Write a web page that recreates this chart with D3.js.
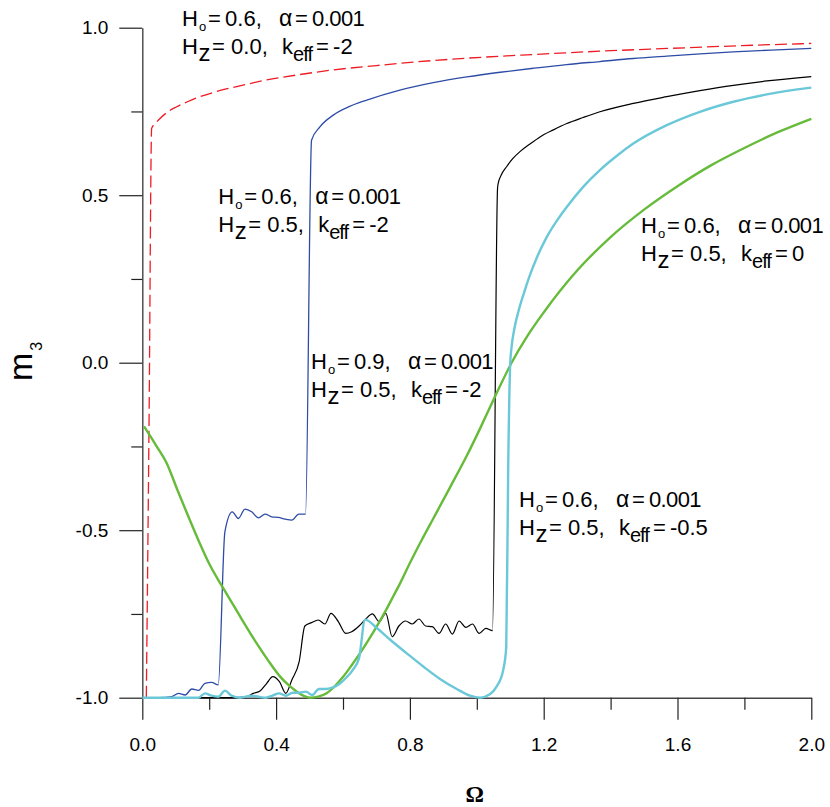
<!DOCTYPE html>
<html>
<head>
<meta charset="utf-8">
<script src="https://cdn.jsdelivr.net/npm/d3@7"></script>
<style>
  body { margin: 0; background: #fff; overflow: hidden; }
  text { font-family: "Liberation Sans", Arial, sans-serif; }
</style>
</head>
<body>
<div id="chart"></div>
<script>
// tick values
const omegaTicks = [0, 0.4, 0.8, 1.2, 1.6, 2.0];
const omegaMinor = [0.2, 0.6, 1.0, 1.4, 1.8];
const mTicks = [-1, -0.5, 0, 0.5, 1];
const mMinor = [-0.75, -0.25, 0.25, 0.75];

// H0=0.6, Hz=0.0, keff=-2  (red dashed)
const redSeries = [
    [0.012, -1.0], [0.02, -0.2], [0.028, 0.70], [0.04, 0.715], [0.053, 0.729],
    [0.075, 0.748], [0.103, 0.764], [0.135, 0.779], [0.172, 0.794], [0.22, 0.809],
    [0.272, 0.822], [0.32, 0.833], [0.372, 0.844], [0.47, 0.86], [0.571, 0.874],
    [0.7, 0.887], [0.82, 0.898], [0.97, 0.909], [1.17, 0.92], [1.37, 0.93],
    [1.57, 0.938], [1.78, 0.946], [2.0, 0.953]
];

// H0=0.6, Hz=0.5, keff=-2  (blue)
const blueSeries = [
    [0, -1], [0.05, -1], [0.088, -0.997], [0.108, -0.987], [0.128, -0.992],
    [0.148, -0.974], [0.168, -0.978], [0.187, -0.957], [0.207, -0.954], [0.227, -0.962],
    [0.247, -0.504], [0.269, -0.445], [0.287, -0.465], [0.307, -0.437], [0.327, -0.445],
    [0.347, -0.463], [0.367, -0.452], [0.387, -0.46], [0.407, -0.462], [0.427, -0.467],
    [0.447, -0.47], [0.468, -0.452], [0.488, -0.452], [0.506, 0.664], [0.531, 0.704],
    [0.571, 0.739], [0.62, 0.765], [0.671, 0.784], [0.77, 0.814], [0.87, 0.836],
    [0.97, 0.853], [1.07, 0.867], [1.169, 0.879], [1.268, 0.89], [1.368, 0.899],
    [1.468, 0.908], [1.568, 0.915], [1.668, 0.922], [1.766, 0.928], [1.88, 0.933],
    [2.0, 0.938]
];

// H0=0.9, Hz=0.5, keff=-2  (black)
const blackSeries = [
    [0, -1], [0.272, -1], [0.312, -0.997], [0.332, -0.987], [0.352, -0.98],
    [0.372, -0.957], [0.39, -0.937], [0.41, -0.952], [0.429, -0.987], [0.447, -0.947],
    [0.469, -0.892], [0.486, -0.786], [0.506, -0.776], [0.526, -0.768], [0.546, -0.78],
    [0.564, -0.748], [0.586, -0.773], [0.608, -0.808], [0.626, -0.803], [0.648, -0.786],
    [0.668, -0.765], [0.688, -0.75], [0.708, -0.773], [0.728, -0.748], [0.747, -0.818],
    [0.767, -0.786], [0.787, -0.771], [0.807, -0.78], [0.827, -0.765], [0.847, -0.786],
    [0.867, -0.788], [0.887, -0.808], [0.907, -0.78], [0.927, -0.81], [0.947, -0.771],
    [0.967, -0.79], [0.987, -0.78], [1.007, -0.808], [1.027, -0.793], [1.047, -0.8],
    [1.062, 0.52], [1.064, 0.535], [1.073, 0.56], [1.089, 0.585], [1.108, 0.61],
    [1.129, 0.63], [1.159, 0.653], [1.189, 0.674], [1.229, 0.695], [1.269, 0.714],
    [1.318, 0.732], [1.368, 0.749], [1.468, 0.774], [1.568, 0.794], [1.667, 0.812],
    [1.767, 0.828], [1.867, 0.841], [2.0, 0.854]
];

// H0=0.6, Hz=0.5, keff=-0.5  (cyan)
const cyanSeries = [
    [0, -1], [0.168, -1], [0.187, -0.987], [0.207, -0.994], [0.227, -0.997],
    [0.247, -0.979], [0.267, -0.994], [0.292, -1], [0.327, -0.994], [0.347, -0.997],
    [0.369, -1], [0.389, -0.994], [0.409, -0.987], [0.429, -0.994], [0.449, -0.985],
    [0.469, -0.985], [0.489, -0.982], [0.508, -0.992], [0.528, -0.974], [0.548, -0.974],
    [0.568, -0.97], [0.588, -0.96], [0.608, -0.942], [0.628, -0.919], [0.648, -0.882],
    [0.666, -0.767], [0.701, -0.792], [0.741, -0.827], [0.79, -0.867], [0.84, -0.907],
    [0.89, -0.944], [0.94, -0.974], [0.98, -0.994], [1.01, -1], [1.039, -0.99],
    [1.059, -0.967], [1.079, -0.917], [1.088, -0.85], [1.094, -0.3], [1.1, 0.0],
    [1.104, 0.047], [1.112, 0.1], [1.125, 0.155], [1.14, 0.205], [1.159, 0.262],
    [1.18, 0.315], [1.209, 0.375], [1.24, 0.425], [1.269, 0.465], [1.318, 0.525],
    [1.368, 0.575], [1.418, 0.617], [1.468, 0.654], [1.568, 0.709], [1.667, 0.749],
    [1.767, 0.779], [1.867, 0.801], [2.0, 0.821]
];

// H0=0.6, Hz=0.5, keff=0  (green)
const greenSeries = [
    [0.005, -0.19], [0.04, -0.245], [0.073, -0.30], [0.105, -0.38], [0.138, -0.46],
    [0.17, -0.535], [0.202, -0.604], [0.237, -0.665], [0.272, -0.723], [0.307, -0.782],
    [0.342, -0.838], [0.377, -0.89], [0.412, -0.937], [0.437, -0.962], [0.462, -0.982],
    [0.481, -0.994], [0.501, -1.0], [0.526, -0.997], [0.551, -0.987], [0.576, -0.965],
    [0.601, -0.937], [0.626, -0.903], [0.651, -0.867], [0.676, -0.828], [0.701, -0.787],
    [0.726, -0.743], [0.75, -0.698], [0.771, -0.658], [0.80, -0.598], [0.835, -0.53],
    [0.87, -0.465], [0.92, -0.372], [0.97, -0.278], [1.01, -0.196], [1.054, -0.102],
    [1.104, 0.0], [1.15, 0.078], [1.2, 0.15], [1.3, 0.275], [1.4, 0.375],
    [1.5, 0.457], [1.6, 0.527], [1.7, 0.589], [1.8, 0.641], [1.9, 0.688],
    [2.0, 0.728]
];

// annotation texts
const labelH0 = ['0.6', '0.6', '0.9', '0.6', '0.6'];
const labelHz = ['0.0', '0.5', '0.5', '0.5', '0.5'];
const labelKeff = ['-2', '-2', '-2', '0', '-0.5'];
// anchor of each annotation in data units (Omega, m)
const labelAt = [[0.122, 1.005], [0.23, 0.473], [0.507, -0.02], [1.494, 0.387], [1.129, -0.432]];

const width = 830;
const height = 807;

const svg = d3.select('#chart')
    .append('svg')
    .attr('width', width)
    .attr('height', height)
    .style('display', 'block');

const x = d3.scaleLinear().domain([0, 2]).range([142.3, 811.3]);
const y = d3.scaleLinear().domain([-1, 1]).range([697.7, 27.7]);

// axes
svg.append('g')
    .attr('transform', 'translate(0,' + y(-1) + ')')
    .call(d3.axisBottom(x).tickValues(omegaTicks).tickSize(22).tickSizeOuter(0)
        .tickPadding(18).tickFormat(d => d.toFixed(1)));
const xMinor = svg.append('g')
    .attr('transform', 'translate(0,' + y(-1) + ')')
    .call(d3.axisBottom(x).tickValues(omegaMinor).tickSize(12).tickFormat(''));
xMinor.select('.domain').remove();

svg.append('g')
    .attr('transform', 'translate(' + x(0) + ',0)')
    .call(d3.axisLeft(y).tickValues(mTicks).tickSize(23).tickSizeOuter(0)
        .tickPadding(11).tickFormat(d => d.toFixed(1)));
const yMinor = svg.append('g')
    .attr('transform', 'translate(' + x(0) + ',0)')
    .call(d3.axisLeft(y).tickValues(mMinor).tickSize(11).tickFormat(''));
yMinor.select('.domain').remove();

svg.selectAll('.domain').attr('stroke', '#444').attr('stroke-width', 1.4);
svg.selectAll('.tick line').attr('stroke', '#222').attr('stroke-width', 1.2);
svg.selectAll('.tick text')
    .style('font-family', '"Liberation Sans", Arial, sans-serif')
    .style('font-size', '19px')
    .attr('fill', '#000');

// axis titles
const yTitle = svg.append('text')
    .attr('transform', 'translate(32,381)rotate(-90)')
    .style('font-size', '34px');
yTitle.append('tspan').text('m');
yTitle.append('tspan').attr('dx', 2).attr('dy', 10).style('font-size', '16px').text('3');

svg.append('text')
    .attr('x', (x(0) + x(2)) / 2 - 2)
    .attr('y', 802)
    .attr('text-anchor', 'middle')
    .style('font-family', '"Liberation Serif", "Times New Roman", serif')
    .style('font-weight', 'bold')
    .style('font-size', '23px')
    .text('Ω');

// curves
const line = d3.line()
    .x(d => x(d[0]))
    .y(d => y(d[1]))
    .curve(d3.curveMonotoneX);

const series = [
    { data: redSeries, color: '#ee1c24', w: 1.3, dash: '12,5' },
    { data: blueSeries, color: '#2e4ca6', w: 1.3, dash: null },
    { data: blackSeries, color: '#000000', w: 1.2, dash: null },
    { data: greenSeries, color: '#66bb3a', w: 2.4, dash: null },
    { data: cyanSeries, color: '#6ac8d8', w: 2.4, dash: null }
];

series.forEach(s => {
    svg.append('path')
        .datum(s.data)
        .attr('d', line)
        .attr('fill', 'none')
        .attr('stroke', s.color)
        .attr('stroke-width', s.w)
        .attr('stroke-linejoin', 'round')
        .attr('stroke-dasharray', s.dash);
});

// annotations, each piece placed at an offset from the anchor
labelAt.forEach((p, i) => {
    const tx = x(p[0]);
    const ty = y(p[1]);
    const t1 = svg.append('text').attr('y', ty).style('font-size', '22px');
    t1.append('tspan').attr('x', tx - 1).text('H');
    t1.append('tspan').attr('x', tx + 16).attr('dy', 5).style('font-size', '13px').text('o');
    t1.append('tspan').attr('x', tx + 25).attr('dy', -5).text('=');
    t1.append('tspan').attr('x', tx + 42).text(labelH0[i] + ',');
    t1.append('tspan').attr('x', tx + 96).style('font-size', '23px').text('α');
    t1.append('tspan').attr('x', tx + 112).text('=');
    t1.append('tspan').attr('x', tx + 129).style('letter-spacing', '-0.6px').text('0.001');

    const t2 = svg.append('text').attr('y', ty + 28).style('font-size', '22px');
    t2.append('tspan').attr('x', tx - 1).text('H');
    t2.append('tspan').attr('x', tx + 15.5).attr('dy', 7).style('font-size', '24px').text('z');
    t2.append('tspan').attr('x', tx + 29).attr('dy', -7).text('=');
    t2.append('tspan').attr('x', tx + 48).text(labelHz[i] + ',');
    t2.append('tspan').attr('x', tx + 99).text('k');
    t2.append('tspan').attr('x', tx + 110).attr('dy', 7).style('font-size', '20px')
        .style('letter-spacing', '-1px').text('eff');
    t2.append('tspan').attr('x', tx + 133).attr('dy', -7).text('=');
    t2.append('tspan').attr('x', tx + 150).text(labelKeff[i]);
});
</script>
</body>
</html>
